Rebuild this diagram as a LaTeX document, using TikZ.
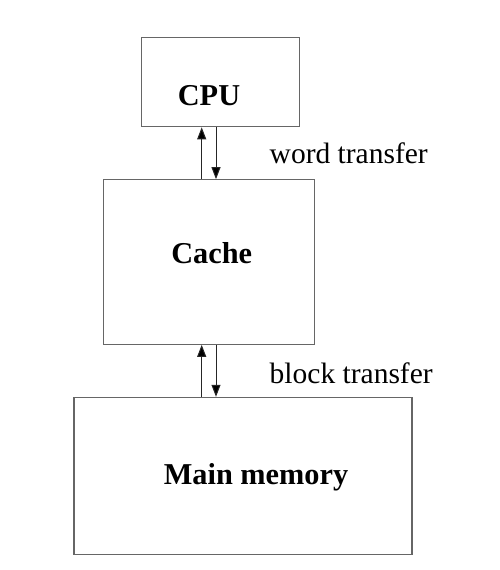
\documentclass[tikz,border=0pt]{standalone}
\usepackage{fontspec}
\setmainfont{Liberation Serif}
\usetikzlibrary{arrows.meta}
\begin{document}
\begin{tikzpicture}[x=1pt,y=-1pt,
  box/.style={draw=black!60,line width=1.1pt,inner sep=0pt},
  lbl/.style={font=\fontsize{30.3}{33}\selectfont\bfseries,anchor=base,inner sep=0pt},
  note/.style={font=\fontsize{29.5}{32}\selectfont,anchor=base west,inner sep=0pt},
  arr/.style={draw=black!85,line width=1pt,-{Triangle[length=12pt,width=9pt,fill=black]}}]
\useasboundingbox (0,0) rectangle (499,570);
\node[box,minimum width=158pt,minimum height=89.5pt] (cpu) at (220.3,82) {};
\node[box,minimum width=210.7pt,minimum height=164.6pt] (cache) at (208.7,262) {};
\node[box,minimum width=338pt,minimum height=156.7pt] (mem) at (243,475.7) {};
\node[lbl] (cput) at (209,105) {CPU};
\node[lbl] (cachet) at (211.7,263.3) {Cache};
\node[lbl] (memt) at (256,484) {Main memory};
\node[note] (wt) at (269.5,163) {word transfer};
\node[note] (bt) at (269.5,383) {block transfer};
\coordinate (ux) at (201.7,0);
\coordinate (dx) at (216,0);
\draw[arr] (cache.north -| ux) -- (cpu.south -| ux);
\draw[arr] (cpu.south -| dx) -- (cache.north -| dx);
\draw[arr] (mem.north -| ux) -- (cache.south -| ux);
\draw[arr] (cache.south -| dx) -- (mem.north -| dx);
\end{tikzpicture}
\end{document}
